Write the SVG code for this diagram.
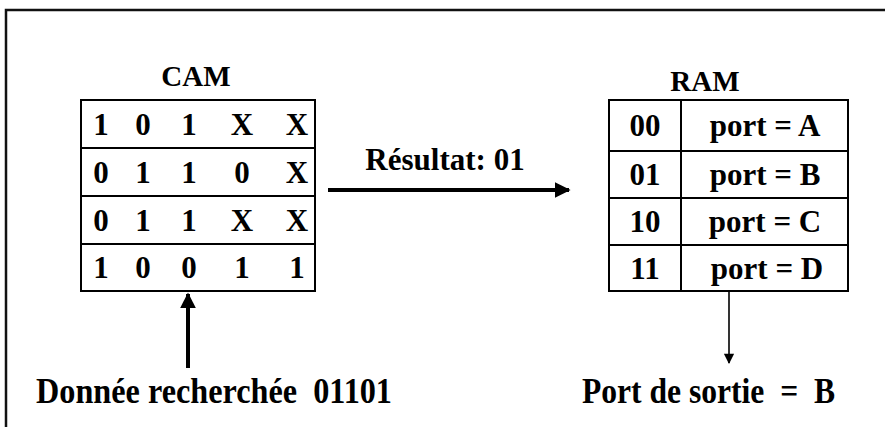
<svg xmlns="http://www.w3.org/2000/svg" width="885" height="427" viewBox="0 0 885 427">
  <style>
    .t { font-family: "Liberation Serif", "Times New Roman", serif; font-weight: bold; fill: #000; }
    .cell { font-size: 31px; text-anchor: middle; }
    .title { font-size: 29px; text-anchor: middle; }
    .caption { font-size: 35px; white-space: pre; }
    .box { fill: #fff; stroke: #000; stroke-width: 2; }
    .rule { stroke: #000; stroke-width: 2; fill: none; }
  </style>
  <defs>
    <marker id="headBold" viewBox="0 0 10 10" refX="9" refY="5" markerWidth="4" markerHeight="4" orient="auto" markerUnits="strokeWidth">
      <path d="M0,0 L10,5 L0,10 Z" fill="#000"/>
    </marker>
    <marker id="headThin" viewBox="0 0 10 10" refX="9" refY="5" markerWidth="9" markerHeight="6.5" orient="auto" markerUnits="strokeWidth">
      <path d="M0,0 L10,5 L0,10 Z" fill="#000"/>
    </marker>
  </defs>

  <rect width="885" height="427" fill="#fff"/>
  <!-- page frame (top and left edges) -->
  <path d="M6,427 V10 H885" fill="none" stroke="#111" stroke-width="2.5"/>

  <!-- content-addressable memory -->
  <g id="cam">
    <text class="t title" x="196" y="86">CAM</text>
    <rect class="box" x="81" y="100" width="234" height="191"/>
    <path class="rule" d="M81,148 H315 M81,196 H315 M81,244 H315"/>
    <g class="t cell">
      <text y="135"><tspan x="101">1</tspan><tspan x="143">0</tspan><tspan x="189">1</tspan><tspan x="242">X</tspan><tspan x="297">X</tspan></text>
      <text y="183"><tspan x="101">0</tspan><tspan x="143">1</tspan><tspan x="189">1</tspan><tspan x="242">0</tspan><tspan x="297">X</tspan></text>
      <text y="231"><tspan x="101">0</tspan><tspan x="143">1</tspan><tspan x="189">1</tspan><tspan x="242">X</tspan><tspan x="297">X</tspan></text>
      <text y="278"><tspan x="101">1</tspan><tspan x="143">0</tspan><tspan x="189">0</tspan><tspan x="242">1</tspan><tspan x="297">1</tspan></text>
    </g>
  </g>

  <!-- associated RAM -->
  <g id="ram">
    <text class="t title" x="705" y="91">RAM</text>
    <rect class="box" x="609" y="100" width="239" height="191"/>
    <path class="rule" d="M681,100 V291 M609,151 H848 M609,198 H848 M609,245 H848"/>
    <g class="t cell">
      <text x="645" y="136">00</text>
      <text x="645" y="185">01</text>
      <text x="645" y="232">10</text>
      <text x="645" y="279">11</text>
      <text x="765" y="136">port = A</text>
      <text x="765" y="185">port = B</text>
      <text x="765" y="232">port = C</text>
      <text x="767" y="279">port = D</text>
    </g>
  </g>

  <g id="search-key">
    <text class="t caption" x="36" y="403" textLength="356" lengthAdjust="spacingAndGlyphs" xml:space="preserve">Donnée recherchée  01101</text>
  </g>

  <g id="output-port">
    <text class="t caption" x="582" y="403" textLength="253" lengthAdjust="spacingAndGlyphs" xml:space="preserve">Port de sortie  =  B</text>
  </g>

  <g id="result-label">
    <text class="t" x="445" y="170" font-size="31" text-anchor="middle">Résultat: 01</text>
  </g>

  <!-- connectors -->
  <g id="connectors">
    <line x1="328" y1="190" x2="569" y2="190" stroke="#000" stroke-width="4" marker-end="url(#headBold)"/>
    <line x1="188" y1="368" x2="188" y2="294" stroke="#000" stroke-width="4" marker-end="url(#headBold)"/>
    <line x1="729" y1="292" x2="729" y2="363" stroke="#000" stroke-width="1.6" marker-end="url(#headThin)"/>
  </g>
</svg>
